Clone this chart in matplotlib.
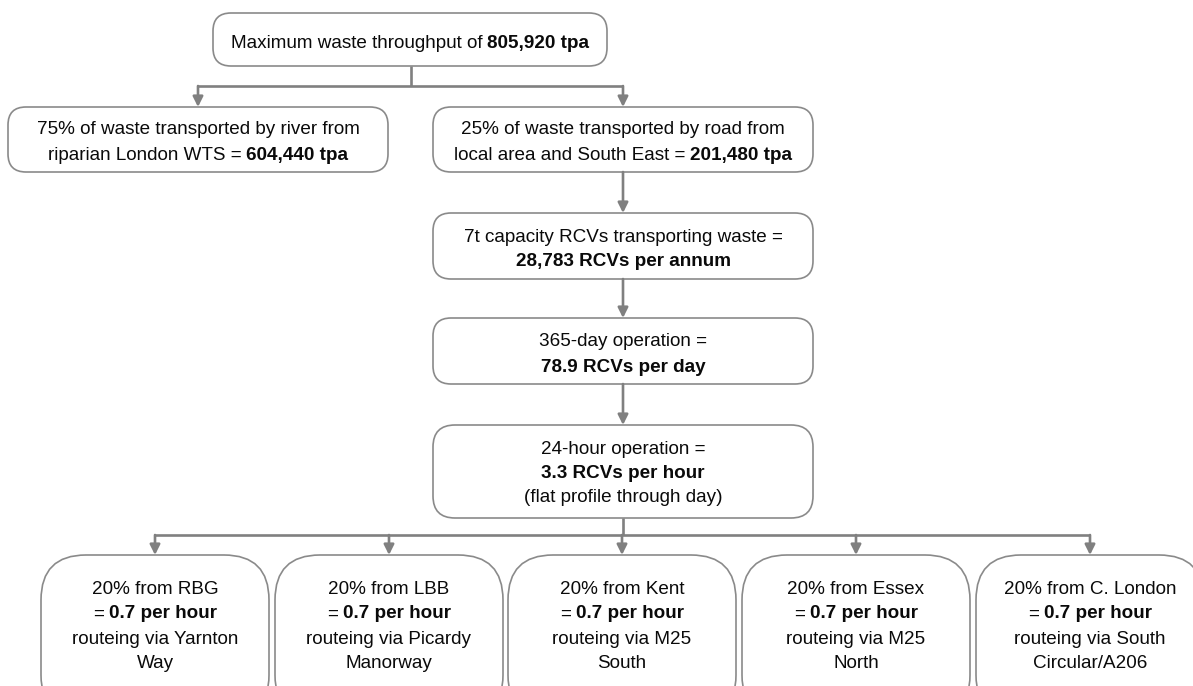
"""Flowchart of waste throughput and RCV routeing."""

import matplotlib

matplotlib.use("Agg")
import matplotlib.pyplot as plt
from matplotlib.patches import FancyBboxPatch

plt.rcParams["font.family"] = ["Liberation Sans", "DejaVu Sans"]

# text content of each box: list of lines, each line a list of (text, bold)
top_lines = [[("Maximum waste throughput of ", False), ("805,920 tpa", True)]]
river_lines = [
    [("75% of waste transported by river from", False)],
    [("riparian London WTS = ", False), ("604,440 tpa", True)],
]
road_lines = [
    [("25% of waste transported by road from", False)],
    [("local area and South East = ", False), ("201,480 tpa", True)],
]
annum_lines = [
    [("7t capacity RCVs transporting waste =", False)],
    [("28,783 RCVs per annum", True)],
]
day_lines = [
    [("365-day operation =", False)],
    [("78.9 RCVs per day", True)],
]
hour_lines = [
    [("24-hour operation =", False)],
    [("3.3 RCVs per hour", True)],
    [("(flat profile through day)", False)],
]
regions = ["RBG", "LBB", "Kent", "Essex", "C. London"]
shares = [20, 20, 20, 20, 20]
per_hour = [0.7, 0.7, 0.7, 0.7, 0.7]
routes = [
    ("Yarnton", "Way"),
    ("Picardy", "Manorway"),
    ("M25", "South"),
    ("M25", "North"),
    ("South", "Circular/A206"),
]

W, H = 1193, 686
FS = 13.6
BOX_EDGE = "#8a8a8a"
LINK = "#808080"

fig = plt.figure(figsize=(W / 100, H / 100), dpi=100)
ax = fig.add_axes([0, 0, 1, 1])
ax.set_xlim(0, W)
ax.set_ylim(H, 0)
ax.axis("off")
renderer = fig.canvas.get_renderer()


def text_width(s, bold):
    t = ax.text(0, 0, s, fontsize=FS, fontweight="bold" if bold else "normal")
    w = t.get_window_extent(renderer).width
    t.remove()
    return w


SPACE = text_width("a a", False) - text_width("aa", False)


def seg_width(s, bold):
    core = s.strip()
    n_pad = len(s) - len(s.lstrip()) + len(s) - len(s.rstrip())
    return text_width(core, bold) + n_pad * SPACE


def draw_lines(cx, ys, lines):
    for y, line in zip(ys, lines):
        widths = [seg_width(s, b) for s, b in line]
        x = cx - sum(widths) / 2
        for (s, b), w in zip(line, widths):
            lead = (len(s) - len(s.lstrip())) * SPACE
            ax.text(x + lead, y + 2, s.strip(), fontsize=FS, ha="left", va="center",
                    fontweight="bold" if b else "normal", color="#0a0a0a")
            x += w


def box(x0, y0, x1, y1, r):
    ax.add_patch(FancyBboxPatch((x0, y0), x1 - x0, y1 - y0,
                                boxstyle=f"round,pad=0,rounding_size={r}",
                                fc="white", ec=BOX_EDGE, lw=1.2))


def link(pts):
    xs, ys = zip(*pts)
    ax.plot(xs, ys, color=LINK, lw=1.9, solid_capstyle="butt")


def arrow(x, y0, y1):
    ax.annotate("", xy=(x, y1), xytext=(x, y0),
                arrowprops=dict(arrowstyle="-|>,head_length=0.6,head_width=0.3",
                                color=LINK, lw=1.9, mutation_scale=10,
                                shrinkA=0, shrinkB=0))


# top level
box(213, 13, 607, 66, 18)
draw_lines(410, [42], top_lines)
link([(411, 66), (411, 86)])
link([(198, 86), (623, 86)])
arrow(198, 86, 107)
arrow(623, 86, 107)

box(8, 107, 388, 172, 18)
draw_lines(198, [128, 153], river_lines)
box(433, 107, 813, 172, 18)
draw_lines(623, [128, 153], road_lines)

# chain down the road branch
arrow(623, 172, 213)
box(433, 213, 813, 279, 18)
draw_lines(623, [235, 260], annum_lines)
arrow(623, 279, 318)
box(433, 318, 813, 384, 18)
draw_lines(623, [340, 365], day_lines)
arrow(623, 384, 425)
box(433, 425, 813, 518, 22)
draw_lines(623, [447, 471, 495], hour_lines)

# split to the five source areas
centers = [155, 389, 622, 856, 1090]
link([(623, 518), (623, 535)])
link([(centers[0], 535), (centers[-1], 535)])
for i, cx in enumerate(centers):
    arrow(cx, 535, 555)
    box(cx - 114, 555, cx + 114, 720, 45)
    lines = [
        [(f"{shares[i]}% from {regions[i]}", False)],
        [("= ", False), (f"{per_hour[i]} per hour", True)],
        [(f"routeing via {routes[i][0]}", False)],
        [(routes[i][1], False)],
    ]
    draw_lines(cx, [587, 612, 637, 662], lines)

fig.savefig("out.png", dpi=100, facecolor="white")
